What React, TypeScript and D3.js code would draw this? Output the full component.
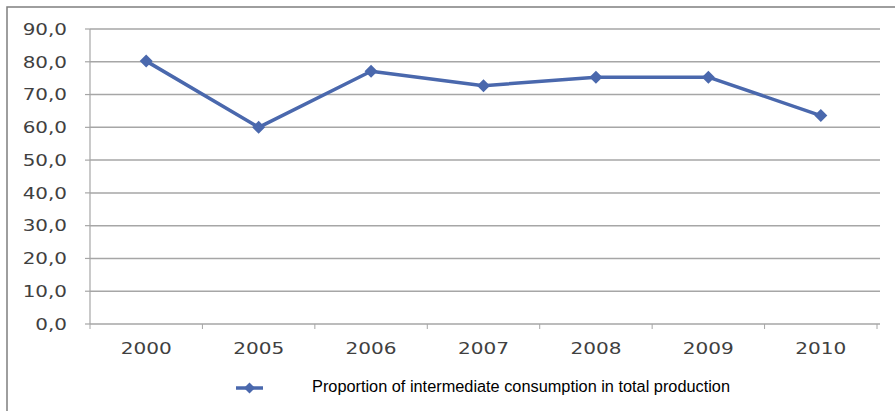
import React from "react";
import * as d3 from "d3";

const categories = ["2000", "2005", "2006", "2007", "2008", "2009", "2010"];
const values = [80.2, 60.0, 77.1, 72.7, 75.3, 75.3, 63.6];
const yTicks = [0, 10, 20, 30, 40, 50, 60, 70, 80, 90];
const seriesName = "Proportion of intermediate consumption in total production";

export default function App() {
  const W = 895, H = 411;
  const left = 90, right = 877, top = 29, bottom = 324;
  const x = d3.scaleBand().domain(categories).range([left, right]);
  const y = d3.scaleLinear().domain([0, 90]).range([bottom, top]);
  const color = "#4a68ad";
  const line = d3.line<number>()
    .x((_, i) => (x(categories[i]) as number) + x.bandwidth() / 2)
    .y((d) => y(d));
  const diamond = (cx: number, cy: number, r: number) =>
    `M${cx},${cy - r}L${cx + r},${cy}L${cx},${cy + r}L${cx - r},${cy}Z`;
  const digitW = 12.6, commaW = 6.5;
  return (
    <svg width={W} height={H} style={{ position: "absolute", left: 0, top: 0, background: "#fff" }}>
      <rect x={0} y={0} width={W} height={H} fill="#fff" />
      <rect x={7} y={7} width={W + 20} height={H + 20} fill="none" stroke="#7f7f7f" strokeWidth={1.5} />
      {yTicks.map((t) => {
        const label = t.toFixed(1).replace(".", ",");
        const len = (label.length - 1) * digitW + commaW;
        return (
          <g key={t}>
            {t > 0 && (
              <line x1={left} x2={right + 3} y1={y(t)} y2={y(t)} stroke="#a6a6a6" strokeWidth={1.5} />
            )}
            <line x1={left - 5} x2={left} y1={y(t)} y2={y(t)} stroke="#a6a6a6" strokeWidth={1.2} />
            <text x={67 - len} y={y(t)} dy="0.36em" textLength={len} lengthAdjust="spacingAndGlyphs"
              fontFamily="DejaVu Sans, Verdana" fontSize={16} fill="#404040">
              {label}
            </text>
          </g>
        );
      })}
      <line x1={left} x2={left} y1={top} y2={bottom} stroke="#a6a6a6" strokeWidth={1.2} />
      <line x1={left} x2={right + 3} y1={bottom} y2={bottom} stroke="#a6a6a6" strokeWidth={1.5} />
      {categories.map((c) => {
        const cx = (x(c) as number) + x.bandwidth() / 2;
        const len = 51;
        return (
          <g key={c}>
            <line x1={(x(c) as number)} x2={(x(c) as number)} y1={bottom} y2={bottom + 5} stroke="#a6a6a6" />
            <text x={cx - len / 2} y={354} textLength={len} lengthAdjust="spacingAndGlyphs"
              fontFamily="DejaVu Sans, Verdana" fontSize={16} fill="#404040">
              {c}
            </text>
          </g>
        );
      })}
      <line x1={right} x2={right} y1={bottom} y2={bottom + 5} stroke="#a6a6a6" />
      <path d={line(values) || ""} fill="none" stroke={color} strokeWidth={3.5} strokeLinejoin="round" />
      {values.map((v, i) => (
        <path key={i} d={diamond((x(categories[i]) as number) + x.bandwidth() / 2, y(v), 6.5)} fill={color} />
      ))}
      <line x1={236} x2={263} y1={388} y2={388} stroke={color} strokeWidth={3.5} />
      <path d={diamond(249.5, 388, 5.5)} fill={color} />
      <text x={312} y={392} textLength={418} lengthAdjust="spacingAndGlyphs"
        fontFamily="Liberation Sans, Arial" fontSize={16} fill="#000">
        {seriesName}
      </text>
    </svg>
  );
}
